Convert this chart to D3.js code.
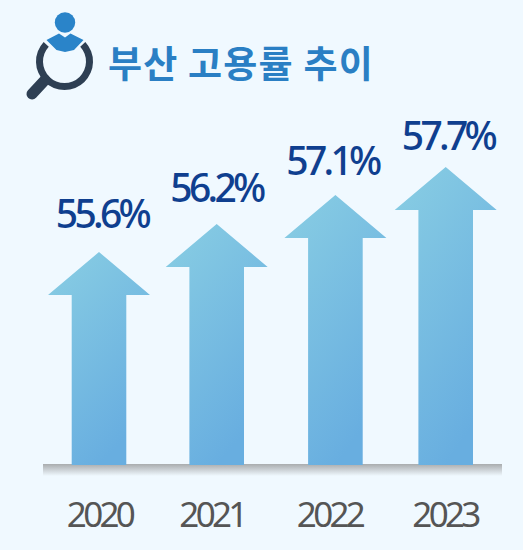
<!DOCTYPE html>
<html><head><meta charset="utf-8">
<script src="https://cdn.jsdelivr.net/npm/d3@7"></script>
<style>html,body{margin:0;padding:0;background:#f0f9ff}svg{display:block}</style>
</head><body><svg id="c" width="523" height="550"></svg>
<script>
const title = "부산 고용률 추이";
const years = ["2020","2021","2022","2023"];
const rates = [55.6,56.2,57.1,57.7];

const svg = d3.select("#c");
const defs = svg.append("defs");
const grad = defs.append("linearGradient").attr("id","arrowFill")
  .attr("x1",0).attr("y1",0).attr("x2",0.5).attr("y2",1);
grad.append("stop").attr("offset",0).attr("stop-color","#89cee3");
grad.append("stop").attr("offset",1).attr("stop-color","#68aee0");
const shadow = defs.append("linearGradient").attr("id","baseShadow").attr("x1",0).attr("y1",0).attr("x2",0).attr("y2",1);
shadow.append("stop").attr("offset",0).attr("stop-color","#a9acae");
shadow.append("stop").attr("offset",1).attr("stop-color","#f0f9ff");

svg.append("rect").attr("width",523).attr("height",550).attr("fill","#f0f9ff");

const x = d3.scaleOrdinal().domain(years).range([99,216.7,335.4,445.7]);
const xValue = d3.scaleOrdinal().domain(years).range([102,216.5,332.5,448]);
const xYear = d3.scaleOrdinal().domain(years).range([99.5,212,329.5,445]);
const y = d3.scaleLinear().domain(rates).range([252,224,195,167]);
const yValue = d3.scaleLinear().domain(rates).range([228,202,175,150]);
const baseY = 465, headH = 43, headW = 51, shaftW = 27.3;

svg.append("rect").attr("x",43).attr("y",baseY-1).attr("width",459).attr("height",12).attr("fill","url(#baseShadow)");

const line = d3.line();
svg.append("g").selectAll("path").data(rates).join("path")
  .attr("fill","url(#arrowFill)")
  .attr("d",(d,i)=>{
    const c=x(years[i]), t=y(d);
    return line([[c,t],[c+headW,t+headH],[c+shaftW,t+headH],[c+shaftW,baseY],[c-shaftW,baseY],[c-shaftW,t+headH],[c-headW,t+headH]])+"Z";
  });

const font = "'Noto Sans','Noto Sans CJK KR',sans-serif";
svg.append("g").selectAll("text").data(rates).join("text")
  .attr("x",(d,i)=>xValue(years[i]))
  .attr("y",d=>yValue(d))
  .attr("text-anchor","middle")
  .attr("font-family",font).attr("font-weight",500).attr("font-size",39)
  .attr("letter-spacing",-3.7).attr("fill","#0f3f8f")
  .text(d=>d.toFixed(1)+"%");

svg.append("g").selectAll("text").data(years).join("text")
  .attr("x",d=>xYear(d))
  .attr("y",527)
  .attr("text-anchor","middle")
  .attr("font-family",font).attr("font-size",35)
  .attr("letter-spacing",-3.7).attr("fill","#555555")
  .text(d=>d);

svg.append("text").attr("x",108).attr("y",78)
  .attr("font-family","'Noto Sans CJK KR',sans-serif").attr("font-weight",700).attr("font-size",37)
  .attr("letter-spacing",1.2).attr("fill","#2a7fc4").text(title);

// Magnifier icon
const icon = svg.append("g");
icon.append("path").attr("transform","translate(64.5,61.5)").attr("fill","#2e3f53")
  .attr("d",d3.arc().innerRadius(21.5).outerRadius(28.5).startAngle(0.82).endAngle(2*Math.PI-0.82)());
icon.append("line").attr("x1",45).attr("y1",80).attr("x2",32).attr("y2",94)
  .attr("stroke","#2e3f53").attr("stroke-width",11).attr("stroke-linecap","round");
icon.append("circle").attr("cx",65).attr("cy",22.5).attr("r",10.2).attr("fill","#2a84c9");
icon.append("path").attr("fill","#2a84c9")
  .attr("d",line([[46.5,40],[59,33.5],[65,37.5],[70.5,33.5],[83.5,40],[74,50],[65,52],[56.5,50]])+"Z");
</script></body></html>
